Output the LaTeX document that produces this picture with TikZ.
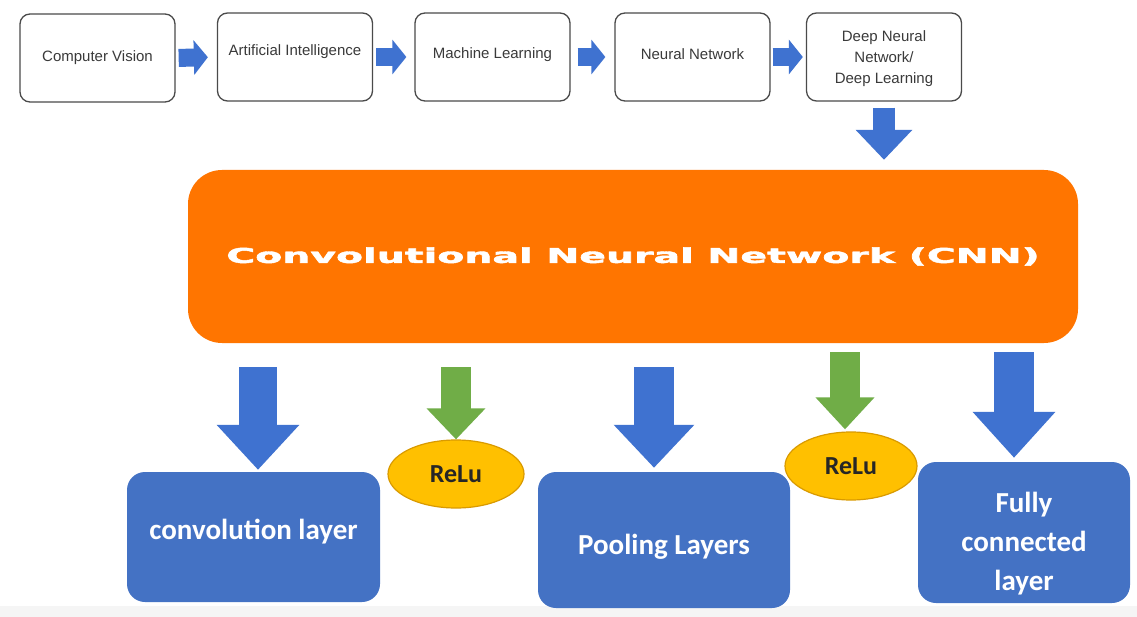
\documentclass[tikz,border=0pt]{standalone}
\usepackage{fontspec}
\setmainfont{Liberation Sans}
\newfontfamily\calfont{Carlito}
\newfontfamily\widefont[LetterSpace=0.5,FakeBold=2]{DejaVu Sans}
\usetikzlibrary{arrows.meta,shapes.geometric}

\definecolor{boxblue}{HTML}{4472C4}
\definecolor{arrowblue}{HTML}{3F72D0}
\definecolor{relugreen}{HTML}{70AD47}
\definecolor{cnnorange}{HTML}{FF7500}
\definecolor{relufill}{HTML}{FFC000}
\definecolor{reluedge}{HTML}{D99A00}
\definecolor{topedge}{HTML}{4A4A4A}
\definecolor{toptext}{HTML}{3A3A3A}

\begin{document}
\begin{tikzpicture}[x=1pt,y=-1pt,
  topbox/.style={draw=topedge, line width=1.3pt, rounded corners=10pt, fill=white,
    minimum width=155pt, minimum height=88pt, inner sep=2pt, align=center,
    text=toptext, font=\fontsize{15}{21}\selectfont},
  sidearrow/.style={draw=arrowblue, line width=18pt,
    -{Triangle[width=34pt,length=14pt]}},
  downarrow/.style={draw=arrowblue, line width=#1,
    -{Triangle[width=80pt,length=45pt]}},
  greenarrow/.style={draw=relugreen, line width=30pt,
    -{Triangle[width=57pt,length=31pt]}},
  layerbox/.style={fill=boxblue, rounded corners=18pt, align=center,
    text=white, font=\calfont\bfseries\fontsize{29}{39}\selectfont},
  relu/.style={ellipse, fill=relufill, draw=reluedge, line width=1.2pt,
    minimum width=136pt, minimum height=68pt, inner sep=0pt,
    font=\calfont\bfseries\fontsize{26}{30}\selectfont, text=black!85}
]
\useasboundingbox (0,0) rectangle (1137,617);
\fill[white] (0,0) rectangle (1137,617);
\fill[black!4] (0,606) rectangle (1137,617);

% pipeline of fields
\node[topbox] (cv)  at (97.5,58)  {Computer Vision};
\node[topbox] (ai)  at (295,57)   {\raisebox{14pt}{Artificial Intelligence}};
\node[topbox] (ml)  at (492.5,57) {\raisebox{8pt}{Machine Learning}};
\node[topbox] (nn)  at (692.5,57) {\raisebox{6pt}{Neural Network}};
\node[topbox] (dnn) at (884,57)   {\rule{0pt}{15pt}Deep Neural\\Network/\\Deep Learning};

\draw[sidearrow, shorten <=3pt, shorten >=9pt] (cv.east) -- (ai.west);
\draw[sidearrow, shorten <=3pt, shorten >=8pt] (ai.east) -- (ml.west);
\draw[sidearrow, shorten <=7pt, shorten >=9pt] (ml.east) -- (nn.west);
\draw[sidearrow, shorten <=2pt, shorten >=3pt] (nn.east) -- (dnn.west);

% central block
\node[fill=cnnorange, rounded corners=34pt, minimum width=890pt, minimum height=173pt,
      inner sep=0pt] (cnn) at (633,256.5)
  {\color{white}\raisebox{-2pt}{\resizebox{813pt}{15.5pt}{\widefont\bfseries Convolutional Neural Network (CNN)}}};

\draw[draw=arrowblue, line width=22pt, -{Triangle[width=55pt,length=30pt]},
      shorten <=6pt, shorten >=10pt] (dnn.south) -- (dnn.south |- cnn.north);

% layers
\node[layerbox, minimum width=253pt, minimum height=130pt] (conv) at (253.5,537)
  {\raisebox{15pt}{convolution layer}};
\node[layerbox, minimum width=252pt, minimum height=136pt] (pool) at (664,540)
  {\rule{0pt}{33pt}Pooling Layers};
\node[layerbox, minimum width=212pt, minimum height=141pt, text width=200pt] (fc) at (1024,532.5)
  {\rule{0pt}{42pt}Fully\\connected\\layer};

\node[relu] (r1) at (456,474) {ReLu};
\node[relu, minimum width=132pt] (r2) at (851,466) {ReLu};

% arrow landing points on the layer tops
\coordinate (ca) at (conv.north -| 258,0);
\coordinate (pa) at (pool.north -| 654,0);
\coordinate (ga) at (r2.north -| 845,0);
\coordinate (fa) at (fc.north -| 1014,0);

\draw[downarrow=38pt, shorten <=24pt, shorten >=2pt] (ca |- cnn.south) -- (ca);
\draw[greenarrow, shorten <=24pt, shorten >=0pt] (r1.north |- cnn.south) -- (r1.north);
\draw[downarrow=40pt, shorten <=24pt, shorten >=4pt,
      -{Triangle[width=78pt,length=43pt]}] (pa |- cnn.south) -- (pa);
\draw[greenarrow, shorten <=9pt, shorten >=2pt,
      -{Triangle[width=57pt,length=32pt]}] (ga |- cnn.south) -- (ga);
\draw[downarrow=40pt, shorten <=9pt, shorten >=4pt,
      -{Triangle[width=80pt,length=46pt]}] (fa |- cnn.south) -- (fa);
\end{tikzpicture}
\end{document}
